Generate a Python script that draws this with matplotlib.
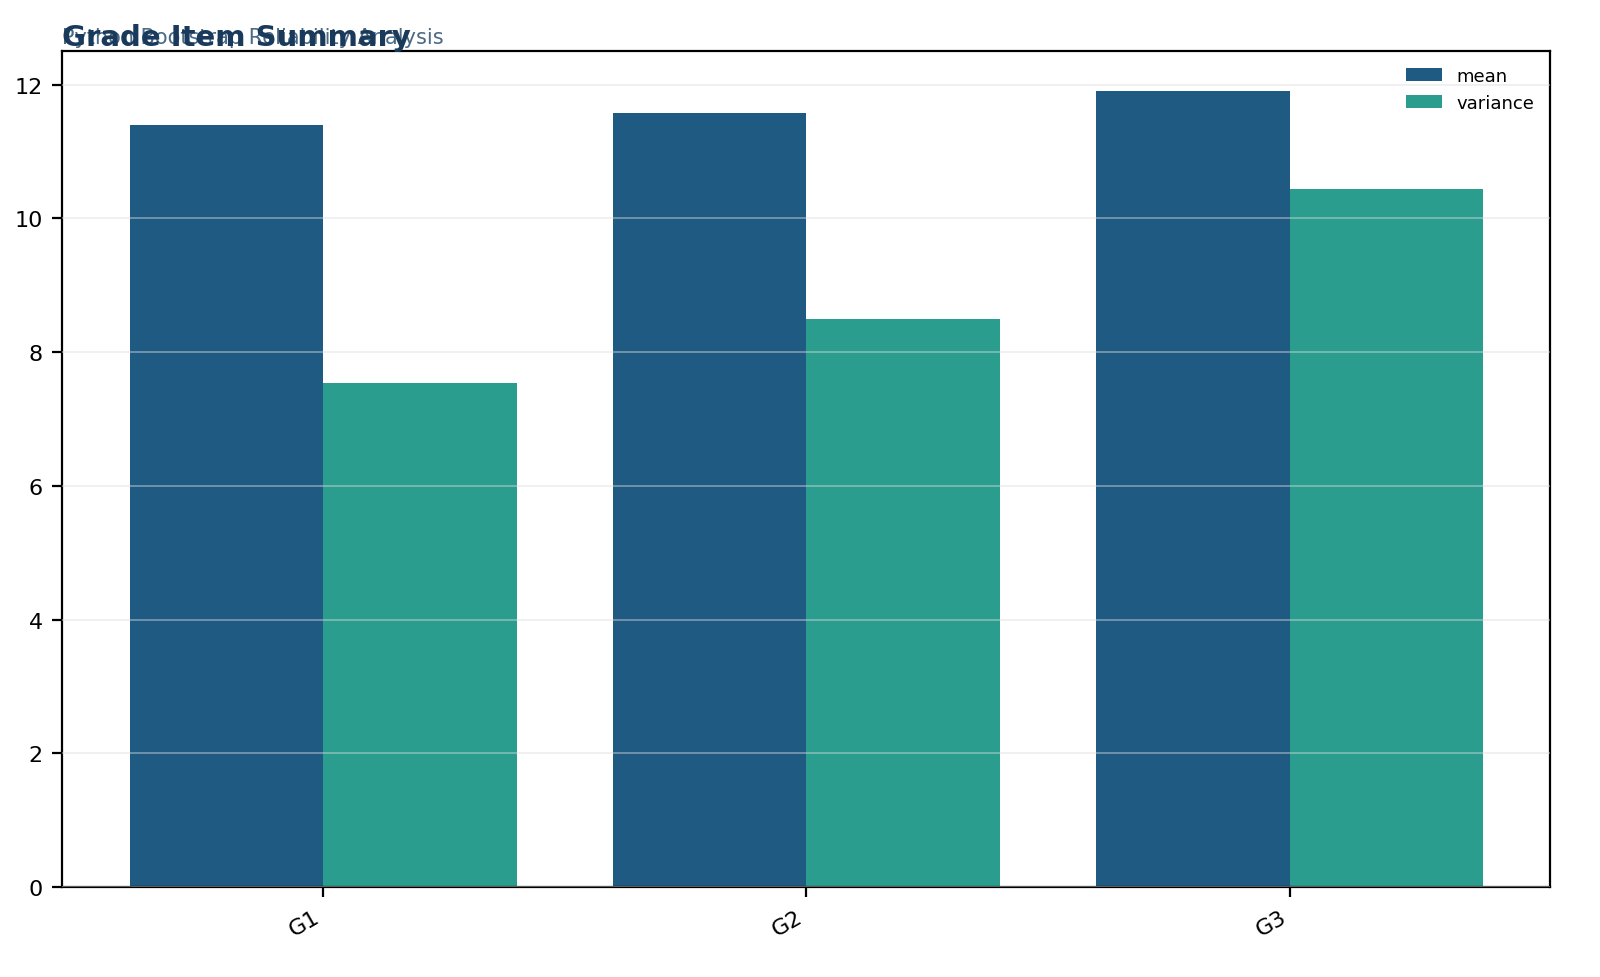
import numpy as np
import matplotlib
matplotlib.use('Agg')
import matplotlib.pyplot as plt

items = ['G1', 'G2', 'G3']
mean = [11.40, 11.58, 11.91]
variance = [7.54, 8.49, 10.44]

plt.rcParams['font.family'] = 'DejaVu Sans'

fig, ax = plt.subplots(figsize=(8, 4.89), dpi=200)
fig.subplots_adjust(left=0.039, right=0.969, top=0.947, bottom=0.092)

x = np.arange(len(items))
w = 0.4
ax.bar(x - w / 2, mean, w, color='#1f5a82', label='mean', zorder=2)
ax.bar(x + w / 2, variance, w, color='#2a9d8f', label='variance', zorder=2)

ax.set_xticks(x)
ax.set_xticklabels(items, rotation=30, ha='right', fontsize=8)
ax.tick_params(axis='y', labelsize=8)
ax.yaxis.grid(True, color='#dddddd', alpha=0.5, linewidth=0.6, zorder=3)
ax.set_axisbelow(False)

ax.legend(frameon=False, fontsize=6.5, loc='upper right')

ax.text(0.0, 1.005, 'Python Bootstrap Reliability Analysis', transform=ax.transAxes,
        fontsize=7.5, color='#4a6a85', ha='left', va='bottom')
ax.set_title('Grade Item Summary', loc='left', fontsize=10.5, fontweight='bold',
             color='#1a3a5c', pad=1)

fig.savefig('out.png', dpi=200)
